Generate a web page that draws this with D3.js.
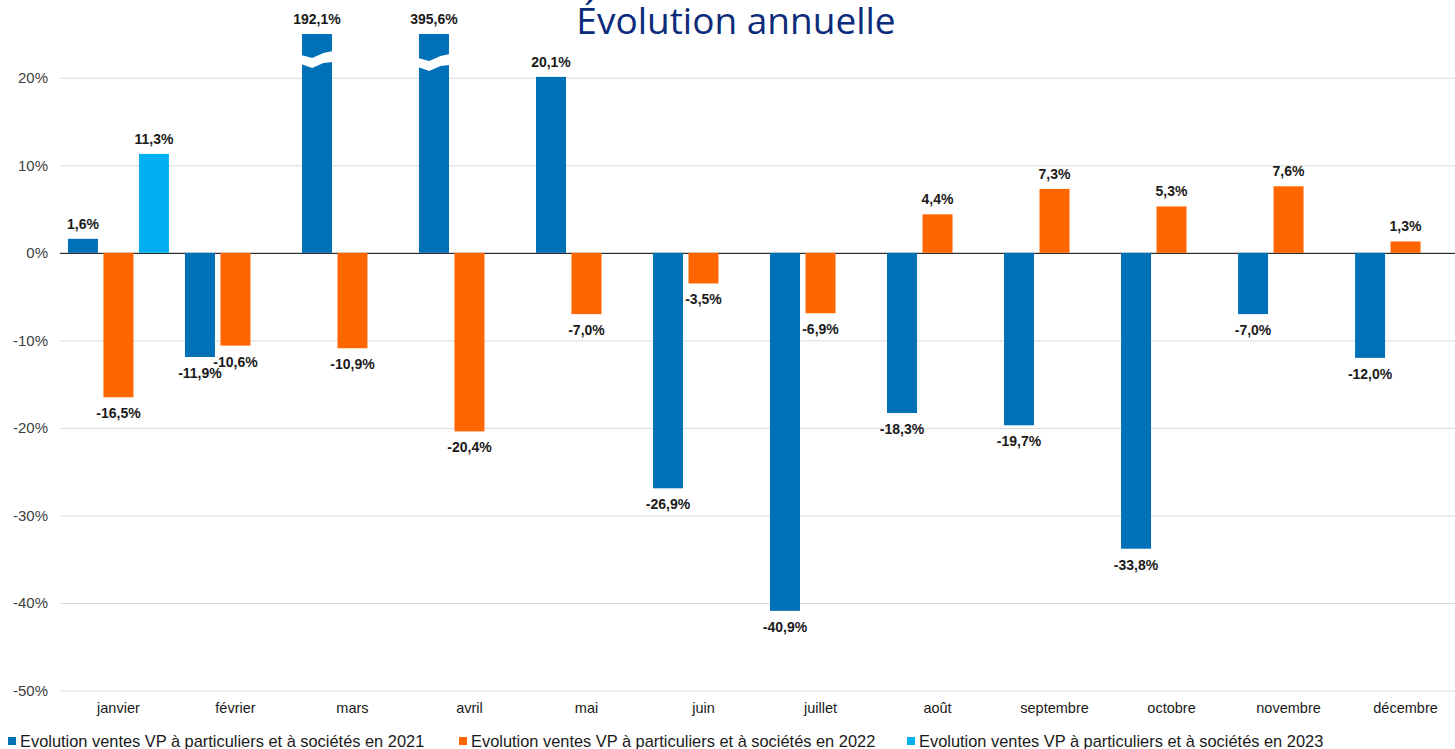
<!DOCTYPE html>
<html>
<head>
<meta charset="utf-8">
<script src="https://cdn.jsdelivr.net/npm/d3@7"></script>
<style>
  body { margin: 0; background: #fff; }
  svg { display: block; }
</style>
</head>
<body>
<div id="chart"></div>
<script>
// chart data
const months = ['janvier', 'février', 'mars', 'avril', 'mai', 'juin', 'juillet', 'août', 'septembre', 'octobre', 'novembre', 'décembre'];
const series = [
    'Evolution ventes VP à particuliers et à sociétés en 2021',
    'Evolution ventes VP à particuliers et à sociétés en 2022',
    'Evolution ventes VP à particuliers et à sociétés en 2023'
];
const values2021 = [1.6, -11.9, 192.1, 395.6, 20.1, -26.9, -40.9, -18.3, -19.7, -33.8, -7.0, -12.0];
const values2022 = [-16.5, -10.6, -10.9, -20.4, -7.0, -3.5, -6.9, 4.4, 7.3, 5.3, 7.6, 1.3];
const values2023 = [11.3, null, null, null, null, null, null, null, null, null, null, null];
const yTicks = [-50, -40, -30, -20, -10, 0, 10, 20];
const colors = ['#0070B8', '#FF6600', '#00B0F0'];

const width = 1455;
const height = 749;
const margins = { top: 34, left: 60 };
const plotBottom = 690.5;
const plotRight = 1464; // the plot runs past the right edge and is cropped

const svg = d3.select('#chart')
    .append('svg')
    .attr('width', width)
    .attr('height', height)
    .style('font-family', '"Liberation Sans", Arial, sans-serif');

const yScale = d3.scaleLinear()
    .domain([-50, 25])
    .range([plotBottom, margins.top])
    .clamp(true);

const x0 = d3.scaleBand()
    .domain(months)
    .range([margins.left, plotRight])
    .paddingInner(0.137)
    .paddingOuter(0.068);

const x1 = d3.scaleBand()
    .domain([0, 1, 2])
    .range([0, x0.bandwidth()])
    .paddingInner(0.155)
    .paddingOuter(0);

// grid lines
const yGrid = d3.axisLeft(yScale)
    .tickValues(yTicks)
    .tickSize(-(width - margins.left))
    .tickFormat('');

svg.append('g')
    .classed('gridline', true)
    .attr('transform', `translate(${margins.left},0)`)
    .call(yGrid)
    .call(g => g.select('.domain').remove())
    .call(g => g.selectAll('line')
        .attr('stroke', d => d === 0 ? '#000' : '#d9d9d9')
        .attr('stroke-width', 1));

// y tick labels
svg.append('g')
    .selectAll('text')
    .data(yTicks)
    .enter()
    .append('text')
    .attr('x', 48)
    .attr('y', d => yScale(d))
    .attr('dy', '0.35em')
    .attr('text-anchor', 'end')
    .attr('fill', '#404040')
    .style('font-size', '15px')
    .text(d => d + '%');

// bars
const rows = [];
[values2021, values2022, values2023].forEach((vals, s) => {
    vals.forEach((v, i) => {
        if (v !== null) rows.push({ month: months[i], s: s, v: v });
    });
});

const bars = svg.append('g');

bars.selectAll('rect')
    .data(rows)
    .enter()
    .append('rect')
    .attr('x', d => x0(d.month) + x1(d.s))
    .attr('width', x1.bandwidth())
    .attr('y', d => yScale(Math.max(0, d.v)))
    .attr('height', d => Math.abs(yScale(d.v) - yScale(0)))
    .attr('fill', d => colors[d.s]);

// break marks on the bars that run off the top
const broken = rows.filter(d => d.v > yScale.domain()[1]);
bars.selectAll('.break')
    .data(broken)
    .enter()
    .append('polygon')
    .classed('break', true)
    .attr('fill', '#fff')
    .attr('points', (d, i) => {
        const x = x0(d.month) + x1(d.s) - 1;
        const w = x1.bandwidth() + 2;
        const t = yScale.range()[1] + 19 + i * 3;
        const top = [[x, t + 2], [x + w * 0.35, t + 5], [x + w * 0.7, t + 0], [x + w, t - 2]];
        const bottom = [[x + w, t + 9], [x + w * 0.7, t + 10], [x + w * 0.35, t + 15], [x, t + 11]];
        return top.concat(bottom).map(p => p.join(',')).join(' ');
    });

// value labels
svg.append('g')
    .selectAll('text')
    .data(rows)
    .enter()
    .append('text')
    .attr('x', d => x0(d.month) + x1(d.s) + x1.bandwidth() / 2)
    .attr('y', d => d.v >= 0 ? yScale(d.v) - 10 : yScale(d.v) + 21)
    .attr('text-anchor', 'middle')
    .attr('fill', '#1a1a1a')
    .style('font-size', '14px')
    .style('font-weight', 'bold')
    .text(d => d.v.toFixed(1).replace('.', ',') + '%');

// month labels
svg.append('g')
    .selectAll('text')
    .data(months)
    .enter()
    .append('text')
    .attr('x', d => x0(d) + x0.bandwidth() / 2)
    .attr('y', 713)
    .attr('text-anchor', 'middle')
    .attr('fill', '#1a1a1a')
    .style('font-size', '14.5px')
    .text(d => d);

// title
svg.append('text')
    .attr('x', 736)
    .attr('y', 34)
    .attr('text-anchor', 'middle')
    .attr('fill', '#0B2C7A')
    .style('font-family', '"Open Sans", "Noto Sans", sans-serif')
    .style('font-size', '37px')
    .text('Évolution annuelle');

// legend
const legendX = [8, 459, 907];
const legend = svg.append('g')
    .selectAll('g')
    .data(series)
    .enter()
    .append('g')
    .attr('transform', (d, i) => `translate(${legendX[i]}, 741)`);

legend.append('rect')
    .attr('x', 0)
    .attr('y', -4)
    .attr('width', 8)
    .attr('height', 8)
    .attr('fill', (d, i) => colors[i]);

legend.append('text')
    .attr('x', 12)
    .attr('y', 0)
    .attr('dy', '0.35em')
    .attr('fill', '#1a1a1a')
    .style('font-size', '16.4px')
    .text(d => d);
</script>
</body>
</html>
